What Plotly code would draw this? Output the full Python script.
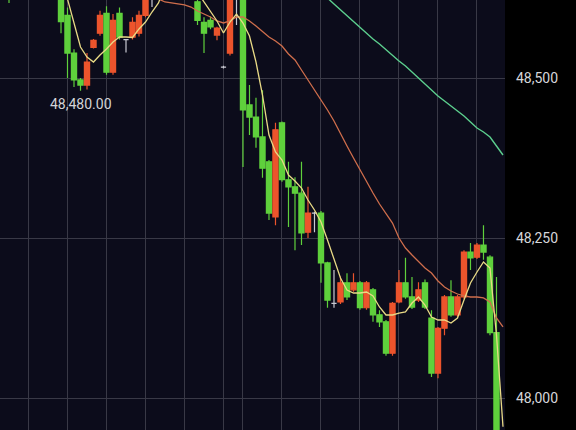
import plotly.graph_objects as go

# ---- data (candle index 0..75, left to right) ----
opens = [48660, 48650, 48680, 48700, 48685, 48705, 48690, 48670, 48645, 48598,
         48539, 48497, 48489, 48548, 48570, 48601, 48509, 48601, 48560, 48564,
         48570, 48598, 48635, 48630, 48660, 48645, 48680, 48655, 48640, 48619,
         48587, 48590, 48567, 48517, 48539, 48625, 48640, 48458, 48439, 48408,
         48369, 48283, 48430, 48341, 48330, 48320, 48259, 48289, 48289, 48211,
         48148, 48150, 48180, 48169, 48180, 48141, 48169, 48130, 48119, 48070,
         48150, 48180, 48158, 48153, 48180, 48125, 48039, 48109, 48158, 48130,
         48158, 48228, 48220, 48239, 48220, 48102]
highs = [48675, 48690, 48710, 48715, 48720, 48715, 48700, 48680, 48655, 48610,
         48545, 48500, 48539, 48561, 48605, 48612, 48600, 48610, 48561, 48595,
         48605, 48640, 48645, 48670, 48675, 48690, 48695, 48665, 48650, 48640,
         48595, 48596, 48580, 48519, 48645, 48640, 48650, 48489, 48469, 48481,
         48372, 48430, 48432, 48369, 48345, 48369, 48330, 48291, 48292, 48213,
         48200, 48190, 48195, 48195, 48183, 48183, 48172, 48137, 48122, 48150,
         48200, 48219, 48189, 48181, 48185, 48137, 48111, 48161, 48184, 48161,
         48231, 48242, 48242, 48270, 48223, 48189]
lows = [48617, 48640, 48670, 48675, 48680, 48680, 48660, 48635, 48570, 48500,
        48486, 48480, 48482, 48546, 48566, 48505, 48505, 48560, 48540, 48560,
        48565, 48595, 48611, 48625, 48640, 48640, 48648, 48632, 48624, 48583,
        48539, 48576, 48559, 48515, 48535, 48583, 48361, 48411, 48391, 48344,
        48278, 48270, 48338, 48267, 48231, 48239, 48250, 48259, 48180, 48141,
        48141, 48147, 48153, 48166, 48138, 48138, 48119, 48111, 48066, 48066,
        48148, 48155, 48139, 48150, 48139, 48033, 48031, 48098, 48127, 48127,
        48155, 48200, 48217, 48216, 48098, 47930]
closes = [48640, 48680, 48700, 48685, 48705, 48690, 48670, 48645, 48588, 48539,
          48497, 48489, 48525, 48559, 48598, 48509, 48590, 48564, 48560, 48587,
          48598, 48630, 48635, 48660, 48645, 48680, 48655, 48640, 48628, 48590,
          48570, 48580, 48578, 48517, 48635, 48625, 48450, 48439, 48408, 48359,
          48289, 48419, 48341, 48330, 48320, 48258, 48289, 48289, 48211, 48153,
          48148, 48180, 48158, 48180, 48141, 48180, 48130, 48119, 48070, 48148,
          48180, 48158, 48142, 48169, 48142, 48039, 48109, 48158, 48130, 48158,
          48228, 48219, 48239, 48228, 48102, 47940]

ma_short = [None] * 7 + [
    48692.2, 48660.9, 48623.4, 48584.4, 48548.4, 48532.8, 48525.0, 48535.9, 48545.3, 48556.3,
    48564.1, 48564.1, 48563.3, 48576.6, 48587.5, 48603.1, 48617.2, 48645.3, 48660.9, 48668.8,
    48660.9, 48645.3, 48634.4, 48618.8, 48604.7, 48589.1, 48570.3, 48587.5, 48600.0, 48585.9,
    48565.6, 48525.0, 48473.4, 48410.9, 48384.4, 48371.9, 48348.4, 48339.1, 48328.1, 48309.4,
    48293.8, 48275.0, 48246.9, 48218.8, 48187.5, 48168.8, 48164.1, 48164.1, 48165.6, 48159.4,
    48142.2, 48129.7, 48129.7, 48132.8, 48134.4, 48148.4, 48157.8, 48145.3, 48126.6, 48121.9,
    48121.9, 48117.2, 48125.0, 48153.1, 48179.7, 48196.9, 48212.5, 48203.1, 48098.0, 47955.0]

ma_mid = [None] * 14 + [
    48640.6, 48639.1, 48637.5, 48635.9, 48634.4, 48632.8, 48631.3, 48629.7, 48626.6, 48623.4,
    48618.8, 48617.2, 48615.6, 48614.1, 48610.9, 48604.7, 48600.0, 48595.3, 48589.1, 48586.0,
    48589.1, 48595.3, 48595.3, 48589.1, 48581.3, 48571.9, 48564.1, 48557.8, 48550.0, 48537.5,
    48528.1, 48512.5, 48496.9, 48481.3, 48467.2, 48450.0, 48432.8, 48412.5, 48393.8, 48375.0,
    48356.3, 48337.5, 48320.3, 48303.1, 48287.5, 48273.4, 48250.0, 48234.4, 48223.4, 48212.5,
    48203.1, 48195.3, 48182.8, 48173.4, 48167.2, 48162.5, 48159.4, 48157.8, 48157.8, 48156.3,
    48150.0, 48125.0, 48111.0]

ma_long = [None] * 44 + [
    48664.1, 48656.3, 48648.4, 48640.6, 48632.8, 48625.0, 48615.6, 48606.3, 48596.9, 48587.5,
    48579.7, 48570.3, 48561.0, 48553.1, 48543.8, 48535.9, 48526.6, 48518.8, 48509.4, 48500.0,
    48490.6, 48481.3, 48471.9, 48464.1, 48456.3, 48448.4, 48440.6, 48431.3, 48421.9, 48415.6,
    48407.8, 48393.8, 48379.7]

y_ticks = [48000, 48250, 48500]
y_tick_labels = ["48,000", "48,250", "48,500"]
x_grid = [3, 9, 15, 21, 27, 33, 36, 42, 48, 54, 60, 66, 72]
low_label = "48,480.00"
low_price = 48480

# ---- build ----
idx = list(range(len(opens)))
ma_idx = list(range(len(ma_short)))
reg = [i for i in idx if opens[i] != closes[i]]
doji = [i for i in idx if opens[i] == closes[i]]

UP = "#ec542c"    # red = rising
DOWN = "#5fd03c"  # green = falling
GREY = "#c9c9d2"

fig = go.Figure()
fig.add_trace(go.Candlestick(
    x=reg, open=[opens[i] for i in reg], high=[highs[i] for i in reg],
    low=[lows[i] for i in reg], close=[closes[i] for i in reg],
    increasing=dict(line=dict(color=UP, width=1.2), fillcolor=UP),
    decreasing=dict(line=dict(color=DOWN, width=1.2), fillcolor=DOWN),
    showlegend=False, hoverinfo="skip"))
fig.add_trace(go.Candlestick(
    x=doji, open=[opens[i] for i in doji], high=[highs[i] for i in doji],
    low=[lows[i] for i in doji], close=[closes[i] for i in doji],
    increasing=dict(line=dict(color=GREY, width=1.2), fillcolor=GREY),
    decreasing=dict(line=dict(color=GREY, width=1.2), fillcolor=GREY),
    showlegend=False, hoverinfo="skip"))

fig.add_trace(go.Scatter(x=ma_idx, y=ma_long, mode="lines",
                         line=dict(color="#5ccf8e", width=1.4), showlegend=False, hoverinfo="skip"))
fig.add_trace(go.Scatter(x=ma_idx, y=ma_mid, mode="lines",
                         line=dict(color="#cf6e4c", width=1.3), showlegend=False, hoverinfo="skip"))
fig.add_trace(go.Scatter(x=ma_idx, y=ma_short, mode="lines",
                         line=dict(color="#e9da86", width=1.3), showlegend=False, hoverinfo="skip"))

fig.add_annotation(x=11, y=low_price, text=low_label, showarrow=False,
                   yanchor="top", yshift=-3,
                   font=dict(size=14, color="#d4d4d8", family="Roboto"))

fig.update_layout(
    width=576, height=430,
    margin=dict(l=0, r=71, t=0, b=0),
    paper_bgcolor="#000000",
    plot_bgcolor="#0c0c1b",
    boxmode="overlay", boxgap=0.2, boxgroupgap=0,
    font=dict(family="Roboto", size=14, color="#d6d6da"),
    xaxis=dict(range=[-1.385, 76.31], rangeslider=dict(visible=False),
               tickmode="array", tickvals=x_grid, showticklabels=False,
               showgrid=True, gridcolor="#393946", gridwidth=1,
               zeroline=False, showline=False, ticks=""),
    yaxis=dict(range=[47950, 48621.875], side="right",
               tickmode="array", tickvals=y_ticks, ticktext=y_tick_labels,
               showgrid=True, gridcolor="#393946", gridwidth=1,
               zeroline=False, showline=False, ticks="",
               ticklabelstandoff=10,
               tickfont=dict(size=14, color="#d6d6da", family="Roboto")),
)

fig.write_html("out.html", config={"displayModeBar": False},
               post_script="document.body.style.margin='0';document.body.style.padding='0';"
                           "document.body.style.background='#000';")
